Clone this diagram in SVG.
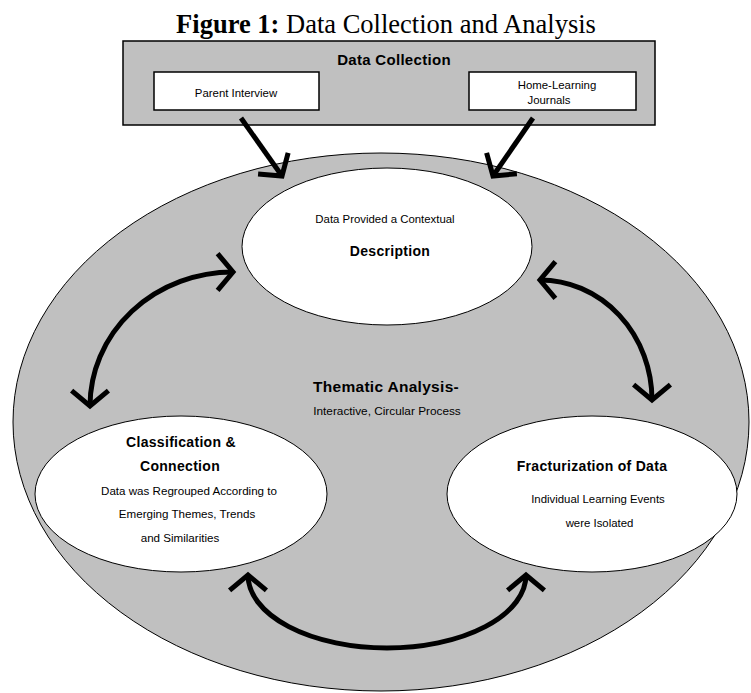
<svg xmlns="http://www.w3.org/2000/svg" width="751" height="693" viewBox="0 0 751 693">
<style>
.t{font-family:"Liberation Sans",Arial,sans-serif;fill:#000;text-anchor:middle}
.r{font-size:11.4px}
.b{font-size:14px;font-weight:bold;letter-spacing:0.3px}
.box{fill:#fff;stroke:#000;stroke-width:1.5}
.ell{fill:#fff;stroke:#000;stroke-width:1}
.con{fill:none;stroke:#000;stroke-width:5}
</style>
<defs>
<marker id="ah" markerUnits="userSpaceOnUse" viewBox="-30 -30 60 60" markerWidth="60" markerHeight="60" refX="0" refY="0" orient="auto-start-reverse" overflow="visible">
<path d="M-15.4,-18.4 L0,0 L-15.4,18.4" fill="none" stroke="#000" stroke-width="5" stroke-linejoin="miter"/>
</marker>
</defs>
<rect width="751" height="693" fill="#fff"/>
<text x="386" y="33" style="font-family:'Liberation Serif','Times New Roman',serif;font-size:26.5px;text-anchor:middle"><tspan font-weight="bold">Figure 1:</tspan> Data Collection and Analysis</text>
<g id="data-collection">
<rect x="123" y="41" width="532" height="84" fill="#c0c0c0" stroke="#000" stroke-width="1.5"/>
<text class="t b" x="394" y="65" style="font-size:15px">Data Collection</text>
</g>
<g id="parent-interview">
<rect class="box" x="154" y="72" width="165" height="38"/>
<text class="t r" x="236" y="97">Parent Interview</text>
</g>
<g id="home-learning">
<rect class="box" x="469" y="72" width="167" height="38"/>
<text class="t r" x="557" y="89">Home-Learning</text>
<text class="t r" x="549" y="104">Journals</text>
</g>
<g id="thematic-analysis">
<ellipse cx="381" cy="422" rx="368" ry="269" fill="#c0c0c0" stroke="#000" stroke-width="1"/>
<text class="t b" x="386" y="392" style="font-size:15.5px">Thematic Analysis-</text>
<text class="t r" x="387" y="415" style="font-size:11.8px">Interactive, Circular Process</text>
</g>
<g id="description">
<ellipse class="ell" cx="387" cy="246.5" rx="145" ry="78.5"/>
<text class="t r" x="385" y="223">Data Provided a Contextual</text>
<text class="t b" x="390" y="256">Description</text>
</g>
<g id="classification">
<ellipse class="ell" cx="181" cy="494" rx="146" ry="78"/>
<text class="t b" x="181" y="447">Classification &amp;</text>
<text class="t b" x="180" y="471">Connection</text>
<text class="t r" x="189" y="495" style="font-size:11.6px">Data was Regrouped According to</text>
<text class="t r" x="187" y="518" style="font-size:11.6px">Emerging Themes, Trends</text>
<text class="t r" x="180" y="542" style="font-size:11.6px">and Similarities</text>
</g>
<g id="fracturization">
<ellipse class="ell" cx="592" cy="494" rx="145" ry="78"/>
<text class="t b" x="592" y="471">Fracturization of Data</text>
<text class="t r" x="598" y="503">Individual Learning Events</text>
<text class="t r" x="599.5" y="527">were Isolated</text>
</g>
<g id="connectors">
<path class="con" d="M241,118 L282,176" marker-end="url(#ah)"/>
<path class="con" d="M533,118 L493,176" marker-end="url(#ah)"/>
<path class="con" d="M90,406 A143,134 0 0 1 233,272" marker-start="url(#ah)" marker-end="url(#ah)"/>
<path class="con" d="M540,280 A112,120 0 0 1 652,400" marker-start="url(#ah)" marker-end="url(#ah)"/>
<path class="con" d="M248,575 A139,73 0 0 0 526,575" marker-start="url(#ah)" marker-end="url(#ah)"/>
</g>
</svg>
